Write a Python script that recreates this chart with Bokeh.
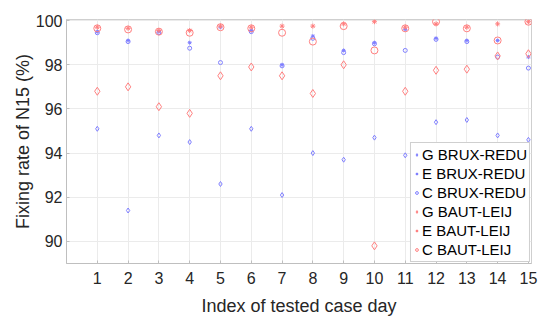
from bokeh.plotting import figure
from bokeh.models import Range1d, FixedTicker, Legend, LegendItem
from bokeh.embed import file_html
from bokeh.resources import INLINE

days = list(range(1, 16))
g_brux = [95.1, 91.4, 94.8, 94.5, 92.6, 95.1, 92.1, 94.0, 93.7, 94.7, 93.9, 95.4, 95.5, 94.8, 94.6]
e_brux = [99.5, 99.1, 99.5, 99.0, 99.7, 99.55, 98.0, 99.3, 98.65, 99.0, 99.6, 99.2, 99.1, 99.1, 98.35]
c_brux = [99.45, 99.05, 99.45, 98.75, 98.1, 99.5, 97.95, 99.2, 98.55, 98.95, 98.65, 99.15, 99.05, 98.35, 97.85]
g_baut = [96.8, 97.0, 96.1, 95.8, 97.5, 97.9, 97.5, 96.7, 98.0, 89.8, 96.8, 97.75, 97.8, 98.4, 98.5]
e_baut = [99.7, 99.65, 99.55, 99.55, 99.75, 99.7, 99.75, 99.75, 99.85, 99.95, 99.7, 99.85, 99.7, 99.85, 99.95]
c_baut = [99.65, 99.6, 99.5, 99.45, 99.7, 99.65, 99.45, 99.05, 99.75, 98.65, 99.65, 99.95, 99.65, 99.1, 99.95]
labels = ["G BRUX-REDU", "E BRUX-REDU", "C BRUX-REDU", "G BAUT-LEIJ", "E BAUT-LEIJ", "C BAUT-LEIJ"]
x_ticks = list(range(1, 16))
y_ticks = [90, 92, 94, 96, 98, 100]

FONT = "Liberation Sans"
BLUE = "#7f7fff"
RED = "#ff7f7f"

p = figure(width=548, height=318, output_backend="svg", toolbar_location=None,
           x_range=Range1d(0, 15.1), y_range=Range1d(89, 100.05),
           min_border_left=66, min_border_right=17, min_border_top=19, min_border_bottom=55)
p.background_fill_color = "white"
p.border_fill_color = "white"
p.outline_line_color = "#cfcfcf"

series = [
    (g_brux, "diamond", BLUE, 5),
    (e_brux, "asterisk", BLUE, 4),
    (c_brux, "circle", BLUE, 4),
    (g_baut, "diamond", RED, 8),
    (e_baut, "asterisk", RED, 5),
    (c_baut, "circle", RED, 7),
]
items = []
for (vals, marker, col, size), lab in zip(series, labels):
    r = p.scatter(days, vals, marker=marker, size=size, line_color=col,
                  fill_color=None, line_width=1)
    items.append(LegendItem(label=lab, renderers=[r]))

for ax in (p.xaxis[0], p.yaxis[0]):
    ax.axis_line_color = "#bfbfbf"
    ax.major_tick_line_color = "#bfbfbf"
    ax.major_tick_in = 3
    ax.major_tick_out = 0
    ax.minor_tick_line_color = None
    ax.major_label_text_font = FONT
    ax.major_label_text_font_size = "16px"
    ax.major_label_text_color = "#262626"
    ax.axis_label_text_font = FONT
    ax.axis_label_text_font_size = "18px"
    ax.axis_label_text_font_style = "normal"
    ax.axis_label_text_color = "#262626"

p.xaxis.ticker = FixedTicker(ticks=x_ticks)
p.yaxis.ticker = FixedTicker(ticks=y_ticks)
p.xaxis.axis_label = "Index of tested case day"
p.yaxis.axis_label = "Fixing rate of N15 (%)"
p.xaxis.major_label_standoff = 8
p.xaxis.axis_label_standoff = 9
p.yaxis.major_label_standoff = 4
p.yaxis.axis_label_standoff = 0

p.xgrid.ticker = FixedTicker(ticks=x_ticks)
p.ygrid.ticker = FixedTicker(ticks=y_ticks)
p.grid.grid_line_color = "#ebebeb"

legend = Legend(items=items, location="bottom_right")
legend.margin = 1
legend.padding = 2
legend.spacing = 0
legend.label_height = 19
legend.glyph_height = 19
legend.glyph_width = 7
legend.label_standoff = 2
legend.label_text_font = FONT
legend.label_text_font_size = "15px"
legend.label_text_color = "#000000"
legend.border_line_color = "#a0a0a0"
legend.background_fill_alpha = 1
p.add_layout(legend, "center")

open("out.html", "w").write(file_html(p, INLINE))
